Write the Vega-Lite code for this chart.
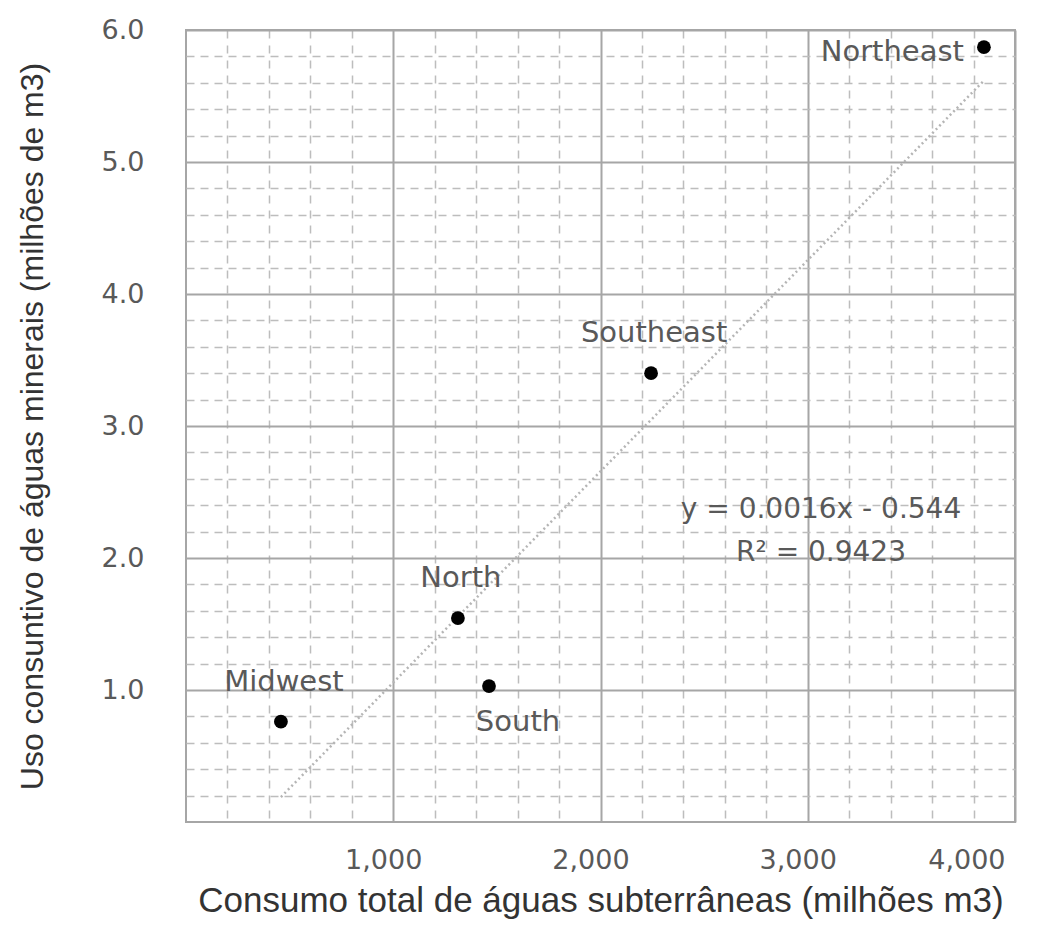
{
  "$schema": "https://vega.github.io/schema/vega-lite/v6.json",
  "width": 829,
  "height": 792,
  "autosize": {"type": "none"},
  "padding": {"left": 186, "top": 30, "right": 47, "bottom": 110},
  "background": "white",
  "config": {"view": {"stroke": "#a6a6a6", "strokeWidth": 2}},
  "datasets": {
    "regions": [
      {"region": "Midwest", "consumo": 458, "uso": 0.76},
      {"region": "North", "consumo": 1312, "uso": 1.545},
      {"region": "South", "consumo": 1462, "uso": 1.03},
      {"region": "Southeast", "consumo": 2244, "uso": 3.4},
      {"region": "Northeast", "consumo": 3850, "uso": 5.87}
    ],
    "trend": [
      {"consumo": 458, "uso": 0.189},
      {"consumo": 3851, "uso": 5.618}
    ],
    "equation": [
      {"label": "y = 0.0016x - 0.544", "consumo": 3064, "uso": 2.36},
      {"label": "R² = 0.9423", "consumo": 3064, "uso": 2.04}
    ]
  },
  "layer": [
    {
      "data": {"name": "regions"},
      "mark": {"type": "point", "opacity": 0},
      "encoding": {
        "x": {"field": "consumo", "type": "quantitative", "scale": {"domain": [0, 4000], "nice": false},
          "axis": {"orient": "bottom", "values": [200,400,600,800,1200,1400,1600,1800,2200,2400,2600,2800,3200,3400,3600,3800],
            "grid": true, "gridColor": "#bdbdbd", "gridWidth": 1.5, "gridDash": [8, 7], "labels": false, "ticks": false, "domain": false, "title": null}},
        "y": {"field": "uso", "type": "quantitative", "scale": {"domain": [0, 6], "nice": false},
          "axis": {"orient": "left", "values": [0.2,0.4,0.6,0.8,1.2,1.4,1.6,1.8,2.2,2.4,2.6,2.8,3.2,3.4,3.6,3.8,4.2,4.4,4.6,4.8,5.2,5.4,5.6,5.8],
            "grid": true, "gridColor": "#bdbdbd", "gridWidth": 1.5, "gridDash": [8, 6], "labels": false, "ticks": false, "domain": false, "title": null}}
      }
    },
    {
      "data": {"name": "trend"},
      "mark": {"type": "line", "color": "#b5b5b5", "strokeWidth": 2.5, "strokeDash": [2, 3]},
      "encoding": {
        "x": {"field": "consumo", "type": "quantitative", "scale": {"domain": [0, 4000], "nice": false},
          "axis": {"orient": "bottom", "values": [1000, 2000, 3000, 4000], "format": ",.0f",
            "grid": true, "gridColor": "#a6a6a6", "gridWidth": 2, "ticks": false, "domain": false,
            "labelFont": "DejaVu Sans", "labelFontSize": 27, "labelColor": "#595959", "labelPadding": 25, "labelOffset": -10,
            "title": "Consumo total de águas subterrâneas (milhões m3)", "titleFont": "Liberation Sans", "titleFontSize": 35,
            "titleFontWeight": "normal", "titleColor": "#333333", "titlePadding": 10}},
        "y": {"field": "uso", "type": "quantitative", "scale": {"domain": [0, 6], "nice": false},
          "axis": {"orient": "left", "values": [1, 2, 3, 4, 5, 6], "format": ".1f",
            "grid": true, "gridColor": "#a6a6a6", "gridWidth": 2, "ticks": false, "domain": false,
            "labelFont": "DejaVu Sans", "labelFontSize": 27, "labelColor": "#595959", "labelPadding": 42,
            "title": "Uso consuntivo de águas minerais (milhões de m3)", "titleFont": "Liberation Sans", "titleFontSize": 32,
            "titleFontWeight": "normal", "titleColor": "#333333", "titlePadding": 52}}
      }
    },
    {
      "data": {"name": "regions"},
      "mark": {"type": "point", "filled": true, "color": "#000000", "opacity": 1, "size": 190},
      "encoding": {
        "x": {"field": "consumo", "type": "quantitative", "scale": {"domain": [0, 4000], "nice": false}, "axis": null},
        "y": {"field": "uso", "type": "quantitative", "scale": {"domain": [0, 6], "nice": false}, "axis": null}
      }
    },
    {
      "data": {"name": "regions"},
      "transform": [{"filter": "datum.region == 'Midwest' || datum.region == 'North' || datum.region == 'Southeast'"}],
      "mark": {"type": "text", "font": "DejaVu Sans", "fontSize": 29, "color": "#595959", "align": "center", "baseline": "middle", "dx": 3, "dy": -40},
      "encoding": {
        "x": {"field": "consumo", "type": "quantitative", "scale": {"domain": [0, 4000], "nice": false}, "axis": null},
        "y": {"field": "uso", "type": "quantitative", "scale": {"domain": [0, 6], "nice": false}, "axis": null},
        "text": {"field": "region"}
      }
    },
    {
      "data": {"name": "regions"},
      "transform": [{"filter": "datum.region == 'South'"}],
      "mark": {"type": "text", "font": "DejaVu Sans", "fontSize": 29, "color": "#595959", "align": "center", "baseline": "middle", "dx": 29, "dy": 36},
      "encoding": {
        "x": {"field": "consumo", "type": "quantitative", "scale": {"domain": [0, 4000], "nice": false}, "axis": null},
        "y": {"field": "uso", "type": "quantitative", "scale": {"domain": [0, 6], "nice": false}, "axis": null},
        "text": {"field": "region"}
      }
    },
    {
      "data": {"name": "regions"},
      "transform": [{"filter": "datum.region == 'Northeast'"}],
      "mark": {"type": "text", "font": "DejaVu Sans", "fontSize": 29, "color": "#595959", "align": "right", "baseline": "middle", "dx": -20, "dy": 5},
      "encoding": {
        "x": {"field": "consumo", "type": "quantitative", "scale": {"domain": [0, 4000], "nice": false}, "axis": null},
        "y": {"field": "uso", "type": "quantitative", "scale": {"domain": [0, 6], "nice": false}, "axis": null},
        "text": {"field": "region"}
      }
    },
    {
      "data": {"name": "equation"},
      "mark": {"type": "text", "font": "DejaVu Sans", "fontSize": 28, "color": "#595959", "align": "center", "baseline": "middle"},
      "encoding": {
        "x": {"field": "consumo", "type": "quantitative", "scale": {"domain": [0, 4000], "nice": false}, "axis": null},
        "y": {"field": "uso", "type": "quantitative", "scale": {"domain": [0, 6], "nice": false}, "axis": null},
        "text": {"field": "label"}
      }
    }
  ],
  "resolve": {"axis": {"x": "independent", "y": "independent"}}
}
